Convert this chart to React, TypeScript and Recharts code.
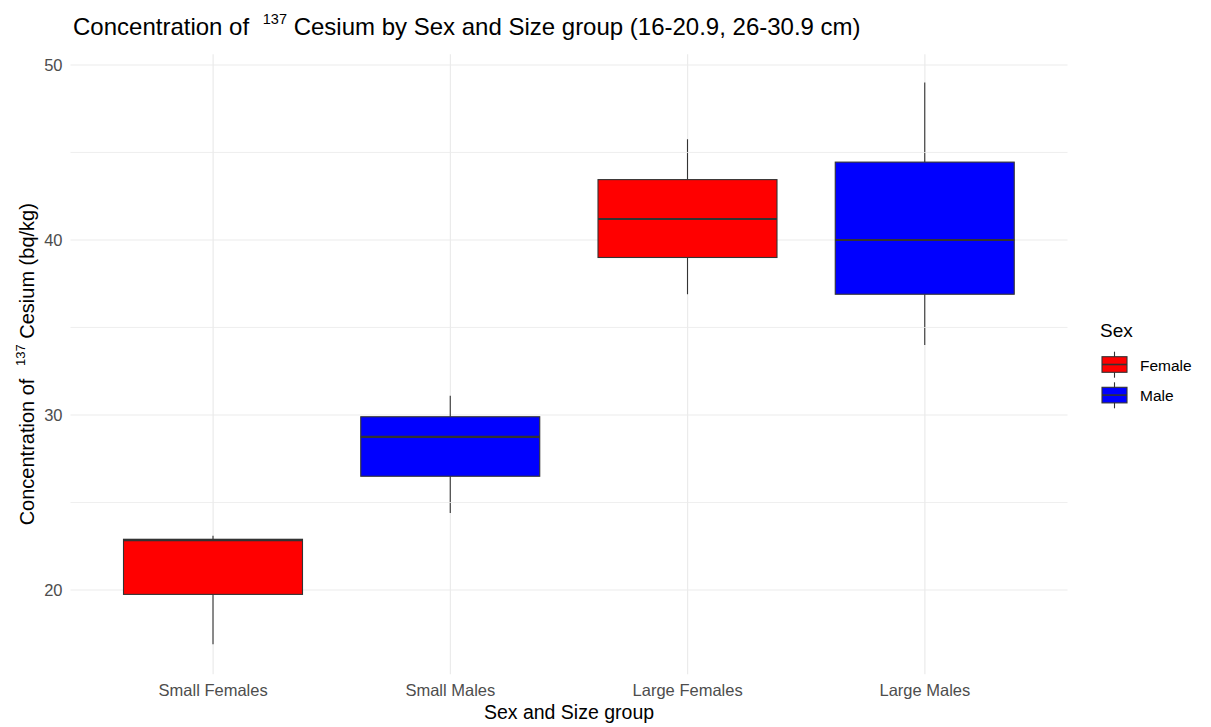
import React from 'react';
import { ComposedChart, Bar, XAxis, YAxis, CartesianGrid, Legend, ReferenceLine } from 'recharts';

const categories = ['Small Females', 'Small Males', 'Large Females', 'Large Males'];
const groupSex = ['Female', 'Male', 'Female', 'Male'];
const mins = [16.9, 24.4, 36.9, 34.0];
const q1s = [19.75, 26.5, 39.0, 36.9];
const medians = [22.85, 28.75, 41.2, 40.0];
const q3s = [22.9, 29.9, 43.45, 44.45];
const maxs = [23.1, 31.1, 45.75, 49.0];

const majorTicks = [20, 30, 40, 50];
const minorTicks = [25, 35, 45];
const yDomain = [15.19, 50.61];

const legendSexes = ['Female', 'Male'];
const sexColors: Record<string, string> = { Female: '#FF0000', Male: '#0000FF' };

const FONT = '"Liberation Sans", Arial, Helvetica, sans-serif';
const OUTLINE = '#333333';

const data = categories.map((name, i) => ({
  name,
  sex: groupSex[i],
  range: [mins[i], maxs[i]],
  min: mins[i],
  q1: q1s[i],
  median: medians[i],
  q3: q3s[i],
  max: maxs[i],
}));

const BoxShape = (props: any) => {
  const { x, y, width, height, payload } = props;
  const top = Math.min(y, y + height);
  const h = Math.abs(height);
  const span = payload.max - payload.min;
  const toPx = (v: number) => top + ((payload.max - v) / span) * h;
  const cx = x + width / 2;
  const yQ3 = toPx(payload.q3);
  const yQ1 = toPx(payload.q1);
  const yMed = toPx(payload.median);
  return (
    <g>
      <line x1={cx} x2={cx} y1={top} y2={yQ3} stroke={OUTLINE} strokeWidth={1.1} />
      <line x1={cx} x2={cx} y1={yQ1} y2={top + h} stroke={OUTLINE} strokeWidth={1.1} />
      <rect x={x} y={yQ3} width={width} height={yQ1 - yQ3} fill={sexColors[payload.sex]} stroke={OUTLINE} strokeWidth={1.1} />
      <line x1={x} x2={x + width} y1={yMed} y2={yMed} stroke={OUTLINE} strokeWidth={2.2} />
    </g>
  );
};

const LegendContent = () => (
  <svg width={120} height={95} style={{ overflow: 'visible' }}>
    <text x={5} y={19.3} fontSize={19} fontFamily={FONT} fill="#000">Sex</text>
    {legendSexes.map((s, i) => {
      const bTop = 38.7 + i * 30.6;
      return (
        <g key={s}>
          <line x1={19.5} x2={19.5} y1={bTop - 5} y2={bTop + 21} stroke={OUTLINE} strokeWidth={1.1} />
          <rect x={7} y={bTop} width={25} height={15.6} fill={sexColors[s]} stroke={OUTLINE} strokeWidth={1.1} />
          <line x1={7} x2={32} y1={bTop + 7.8} y2={bTop + 7.8} stroke={OUTLINE} strokeWidth={1.6} />
          <text x={45} y={bTop + 14} fontSize={15.5} fontFamily={FONT} fill="#000">{s}</text>
        </g>
      );
    })}
  </svg>
);

const XTitle = (props: any) => {
  const vb = props.viewBox;
  return (
    <text x={vb.x + vb.width / 2} y={vb.y + vb.height - 8} textAnchor="middle" fontSize={19.5} fontFamily={FONT} fill="#000">
      Sex and Size group
    </text>
  );
};

const YTitle = (props: any) => {
  const vb = props.viewBox;
  const cx = vb.x + 34;
  const cy = vb.y + vb.height / 2;
  return (
    <text x={cx} y={cy} textAnchor="middle" fontSize={20} fontFamily={FONT} fill="#000" transform={`rotate(-90, ${cx}, ${cy})`}>
      <tspan>Concentration of </tspan>
      <tspan fontSize={13} dy={-9} dx={7}>137</tspan>
      <tspan dy={9}> Cesium (bq/kg)</tspan>
    </text>
  );
};

export default function App() {
  return (
    <div style={{ position: 'absolute', left: 0, top: 0, width: 1211, height: 727, background: '#fff', fontFamily: FONT }}>
      <svg width={1211} height={50} style={{ position: 'absolute', left: 0, top: 0, pointerEvents: 'none' }}>
        <text x={73} y={35.3} fontSize={24} fontFamily={FONT} fill="#000">
          <tspan>Concentration of </tspan>
          <tspan fontSize={14.5} dy={-11} dx={7}>137</tspan>
          <tspan dy={11}> Cesium by Sex and Size group (16-20.9, 26-30.9 cm)</tspan>
        </text>
      </svg>
      <div style={{ position: 'absolute', left: 0, top: 0 }}>
        <ComposedChart
          width={1211}
          height={727}
          data={data}
          margin={{ top: 54.3, right: 143.5, left: 0, bottom: 0 }}
        >
          <CartesianGrid stroke="#EBEBEB" strokeWidth={1.2} syncWithTicks />
          {minorTicks.map((v) => (
            <ReferenceLine key={v} y={v} stroke="#EBEBEB" strokeWidth={0.8} />
          ))}
          <XAxis
            dataKey="name"
            type="category"
            height={52.8}
            padding={{ left: 24, right: 24 }}
            axisLine={false}
            tickLine={false}
            tick={{ fill: '#4D4D4D', fontSize: 16.5, fontFamily: FONT }}
            tickMargin={4}
            label={{ content: <XTitle /> }}
          />
          <YAxis
            type="number"
            domain={yDomain}
            ticks={majorTicks}
            width={70.5}
            axisLine={false}
            tickLine={false}
            tick={{ fill: '#4D4D4D', fontSize: 16.5, fontFamily: FONT }}
            tickMargin={2}
            allowDataOverflow
            label={{ content: <YTitle /> }}
          />
          <Bar dataKey="range" barSize={179} shape={<BoxShape />} isAnimationActive={false} />
          <Legend
            layout="vertical"
            align="center"
            verticalAlign="middle"
            content={<LegendContent />}
            wrapperStyle={{ left: 1095, top: 318, width: 120, height: 95 }}
          />
        </ComposedChart>
      </div>
    </div>
  );
}
